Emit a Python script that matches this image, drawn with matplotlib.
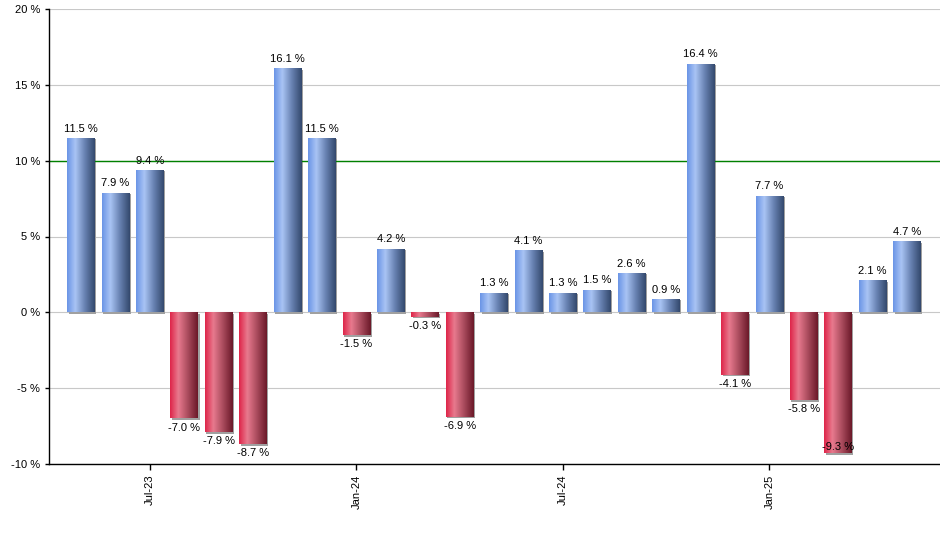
import matplotlib
matplotlib.use("Agg")
import matplotlib.pyplot as plt
import numpy as np
from matplotlib.colors import LinearSegmentedColormap
from matplotlib import transforms

months = ["May-23", "Jun-23", "Jul-23", "Aug-23", "Sep-23", "Oct-23", "Nov-23", "Dec-23",
          "Jan-24", "Feb-24", "Mar-24", "Apr-24", "May-24", "Jun-24", "Jul-24", "Aug-24",
          "Sep-24", "Oct-24", "Nov-24", "Dec-24", "Jan-25", "Feb-25", "Mar-25", "Apr-25", "May-25"]
values = [11.5, 7.9, 9.4, -7.0, -7.9, -8.7, 16.1, 11.5, -1.5, 4.2, -0.3, -6.9, 1.3, 4.1,
          1.3, 1.5, 2.6, 0.9, 16.4, -4.1, 7.7, -5.8, -9.3, 2.1, 4.7]
tick_labels = ["Jul-23", "Jan-24", "Jul-24", "Jan-25"]
y_ticks = [-10, -5, 0, 5, 10, 15, 20]
target = 10

plt.rcParams['font.family'] = ['Liberation Sans', 'DejaVu Sans']

fig = plt.figure(figsize=(9.4, 5.5), dpi=100)
ax = fig.add_axes([49/940, 86/550, 1 - 49/940, (464-9)/550])

x = np.arange(len(values))

blue_cmap = LinearSegmentedColormap.from_list(
    "b", [(0, "#6a94e6"), (0.3, "#a9c4f4"), (0.65, "#6680b0"), (1, "#33486c")])
red_cmap = LinearSegmentedColormap.from_list(
    "r", [(0, "#de2448"), (0.3, "#e87a8e"), (0.65, "#a84a5c"), (1, "#6a1828")])

width = 0.8
# shadow
shadow_tr = transforms.offset_copy(ax.transData, fig=fig, x=1.5, y=-1.5, units='dots')
ax.bar(x, values, width=width, color="#a0a0a0", transform=shadow_tr, zorder=2, linewidth=0)
bars = ax.bar(x, values, width=width, color="none", linewidth=0, zorder=3)

grad = np.linspace(0, 1, 256).reshape(1, -1)
for b, v in zip(bars, values):
    x0, y0 = b.get_x(), b.get_y()
    w, h = b.get_width(), b.get_height()
    cmap = blue_cmap if v >= 0 else red_cmap
    im = ax.imshow(grad, cmap=cmap, aspect='auto',
                   extent=[x0, x0 + w, min(y0, y0 + h), max(y0, y0 + h)],
                   zorder=3, interpolation='bilinear')
    im.set_clip_path(b)

ax.set_xlim(-0.93, len(values) - 1 + 0.96)
ax.set_ylim(-10, 20)

ax.set_yticks(y_ticks)
ax.set_yticklabels([f"{t} %" for t in y_ticks])
ax.yaxis.grid(True, color="#c8c8c8", linewidth=0.8)
ax.set_axisbelow(True)
ax.axhline(target, color="#008000", linewidth=1.0, zorder=2.5)

tick_pos = [months.index(t) for t in tick_labels]
ax.set_xticks(tick_pos)
ax.set_xticklabels(tick_labels, rotation=90)

for s in ["top", "right"]:
    ax.spines[s].set_visible(False)
for s in ["left", "bottom"]:
    ax.spines[s].set_color("black")
    ax.spines[s].set_linewidth(1.0)
ax.tick_params(axis='both', labelsize=8, color="black", length=4, width=1)
ax.tick_params(axis='y', length=3)

# value labels
ax_h_px = (464 - 9)
px_per_unit = ax_h_px / 30.0
for xi, v in zip(x, values):
    lab = f"{v:.1f} %"
    if v >= 0:
        ax.annotate(lab, (xi, v), xytext=(0, 3), textcoords='offset points',
                    ha='center', va='bottom', fontsize=8, zorder=5)
    else:
        bottom_px = (v - (-10)) * px_per_unit
        if bottom_px - 3 - 12 < 0:
            ax.annotate(lab, (xi, -10), xytext=(0, 9), textcoords='offset points',
                        ha='center', va='bottom', fontsize=8, zorder=5)
        else:
            ax.annotate(lab, (xi, v), xytext=(0, -3), textcoords='offset points',
                        ha='center', va='top', fontsize=8, zorder=5)

fig.savefig("out.png", dpi=100)
